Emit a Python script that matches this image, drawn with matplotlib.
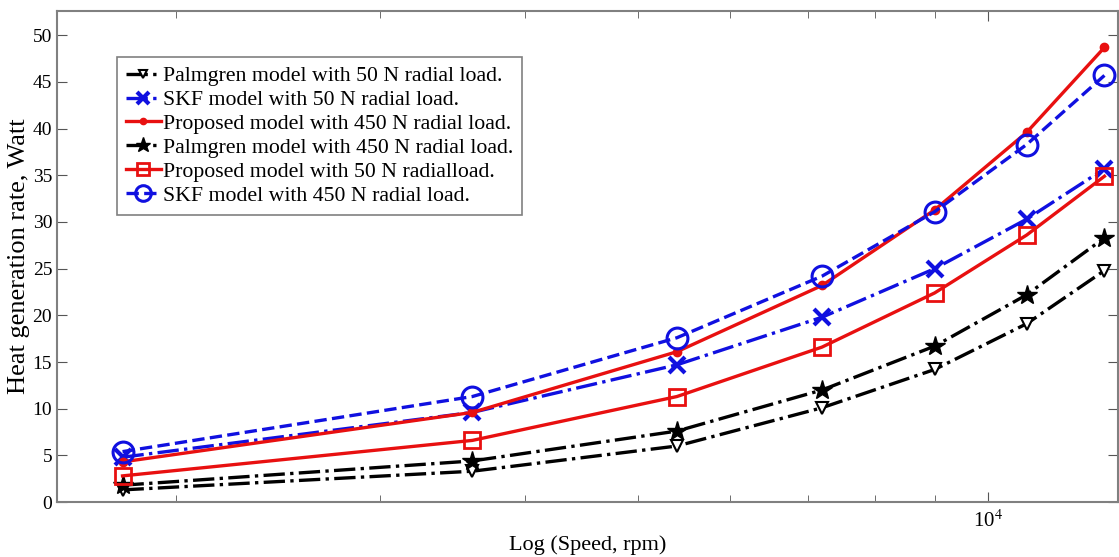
import numpy as np
import matplotlib
matplotlib.use("Agg")
from matplotlib import pyplot as plt
from matplotlib.ticker import NullFormatter, FixedLocator

plt.rcParams['font.family'] = ['Liberation Serif', 'DejaVu Serif']
plt.rcParams['mathtext.fontset'] = 'stix'

# speeds (rpm)
speed = [1800, 3600, 5400, 7200, 9000, 10800, 12600]

# heat generation rate, Watt
palm_50 = [1.3, 3.3, 6.0, 10.1, 14.2, 19.1, 24.8]
skf_50 = [4.8, 9.6, 14.7, 19.8, 25.0, 30.3, 35.7]
prop_450 = [4.3, 9.6, 16.1, 23.2, 31.3, 39.6, 48.7]
palm_450 = [1.8, 4.4, 7.6, 12.0, 16.7, 22.2, 28.3]
prop_50 = [2.8, 6.6, 11.3, 16.6, 22.4, 28.6, 34.9]
skf_450 = [5.4, 11.3, 17.6, 24.2, 31.1, 38.3, 45.7]

labels = ['Palmgren model with 50 N radial load.',
          'SKF model with 50 N radial load.',
          'Proposed model with 450 N radial load.',
          'Palmgren model with 450 N radial load.',
          'Proposed model with 50 N radialload.',
          'SKF model with 450 N radial load.']

fig = plt.figure(figsize=(11.19, 5.57), dpi=100)
ax = fig.add_axes([0.051, 0.0987, 0.948, 0.8815])

lw = 2.4
ax.plot(speed, palm_50, color='black', ls='-.', lw=lw, marker='v', ms=8,
        mfc='white', mec='black', mew=1.5, label=labels[0])
ax.plot(speed, skf_50, color='#1010e0', ls='-.', lw=lw, marker='x', ms=11,
        mew=3, label=labels[1])
ax.plot(speed, prop_450, color='#e81010', ls='-', lw=lw, marker='o', ms=6,
        label=labels[2])
ax.plot(speed, palm_450, color='black', ls='-.', lw=lw, marker='*', ms=15,
        label=labels[3])
ax.plot(speed, prop_50, color='#e81010', ls='-', lw=lw, marker='s', ms=12,
        mfc='none', mew=2, label=labels[4])
ax.plot(speed, skf_450, color='#1010e0', ls='--', lw=lw, marker='o', ms=15,
        mfc='none', mew=2.2, label=labels[5])

ax.set_xscale('log')
ax.set_xlim(1581, 12940)
ax.set_ylim(0, 52.6)
ax.set_yticks(np.arange(0, 51, 5))
ax.xaxis.set_major_locator(FixedLocator([10000]))
ax.xaxis.set_minor_locator(FixedLocator([2000, 3000, 4000, 5000, 6000, 7000, 8000, 9000]))
ax.xaxis.set_minor_formatter(NullFormatter())
ax.set_xticklabels(['10$^4$'])

ax.tick_params(which='both', direction='in', top=True, right=True,
               labelsize=14, color='#555555')
ax.tick_params(which='major', length=7)
ax.tick_params(which='minor', length=5)
ax.tick_params(axis='x', labelsize=15, pad=6)
for s in ax.spines.values():
    s.set_color('#808080')
    s.set_linewidth(1.5)

ax.set_xlabel('Log (Speed, rpm)', fontsize=16, labelpad=2)
ax.set_ylabel('Heat generation rate, Watt', fontsize=19, labelpad=2)

leg = ax.legend(loc='upper left', bbox_to_anchor=(0.0565, 0.906),
                borderaxespad=0, fontsize=15.7, handlelength=1.6,
                handletextpad=0.1, borderpad=0.4, labelspacing=0.17,
                fancybox=False, framealpha=1, markerscale=0.75)
leg.get_frame().set_edgecolor('#808080')
leg.get_frame().set_linewidth(1.2)

plt.savefig('out.png', dpi=100)
